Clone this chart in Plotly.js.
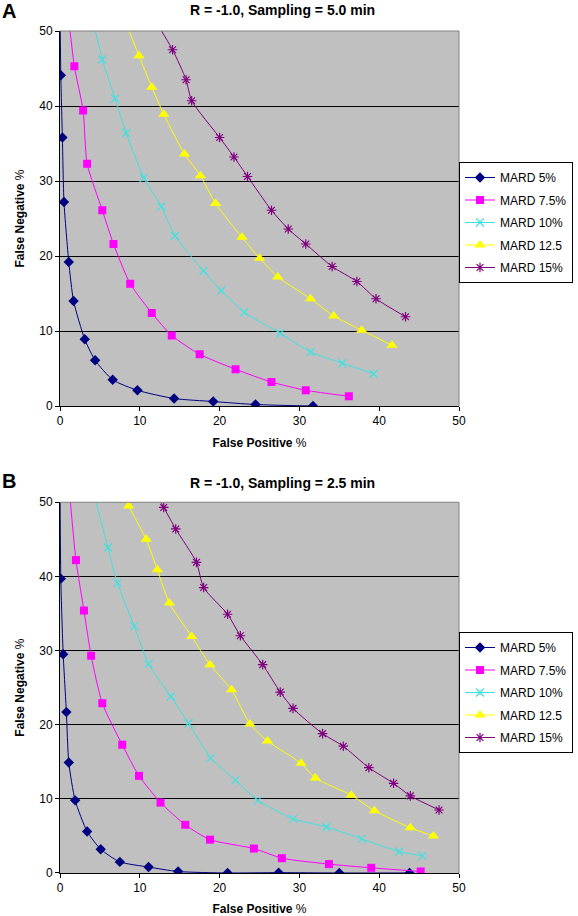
<!DOCTYPE html>
<html>
<head>
<meta charset="utf-8">
<script src="https://cdn.plot.ly/plotly-3.0.1.min.js"></script>
<style>html,body{margin:0;padding:0;background:#fff;}#chart{width:578px;height:916px;}</style>
</head>
<body>
<div id="chart"></div>
<script>
// Series names (legend labels)
const seriesNames = ['MARD 5%', 'MARD 7.5%', 'MARD 10%', 'MARD 12.5', 'MARD 15%'];
const titleA = 'R = -1.0, Sampling = 5.0 min';
const titleB = 'R = -1.0, Sampling = 2.5 min';
const xTitle = 'False Positive';
const yTitle = 'False Negative';

// Panel A (Sampling = 5.0 min): false positive % (x) and false negative % (y)
// first point of each series is off-scale (above 50) and clipped, as in the original
const fpA_5   = [0.0, 0.1, 0.3, 0.5, 1.1, 1.7, 3.1, 4.4, 6.6, 9.7, 14.3, 19.2, 24.5, 31.7];
const fnA_5   = [53, 44.1, 35.8, 27.2, 19.2, 14.0, 8.9, 6.1, 3.5, 2.1, 1.0, 0.6, 0.2, 0.0];
const fpA_75  = [0.95, 1.8, 2.9, 3.4, 5.3, 6.7, 8.8, 11.5, 14.0, 17.5, 22.0, 26.5, 30.8, 36.2];
const fnA_75  = [53, 45.3, 39.4, 32.3, 26.1, 21.6, 16.3, 12.4, 9.4, 6.9, 4.9, 3.2, 2.1, 1.3];
const fpA_10  = [3.8, 5.3, 6.9, 8.3, 10.5, 12.7, 14.4, 18.0, 20.2, 23.1, 27.6, 31.4, 35.4, 39.3];
const fnA_10  = [53, 46.2, 41.0, 36.4, 30.4, 26.6, 22.7, 18.0, 15.4, 12.5, 9.7, 7.2, 5.7, 4.3];
const fpA_125 = [7.55, 9.9, 11.5, 13.0, 15.6, 17.6, 19.5, 22.8, 25.0, 27.3, 31.4, 34.3, 37.8, 41.6];
const fnA_125 = [53, 46.7, 42.5, 38.9, 33.6, 30.7, 27.0, 22.5, 19.7, 17.2, 14.3, 12.0, 10.1, 8.1];
const fpA_15  = [11.0, 14.1, 15.8, 16.5, 20.0, 21.8, 23.5, 26.5, 28.6, 30.8, 34.1, 37.2, 39.6, 43.3];
const fnA_15  = [53, 47.5, 43.5, 40.7, 35.8, 33.2, 30.6, 26.1, 23.6, 21.6, 18.6, 16.6, 14.3, 11.9];

// Panel B (Sampling = 2.5 min)
const fpB_5   = [0.0, 0.1, 0.4, 0.8, 1.1, 1.9, 3.4, 5.1, 7.5, 11.1, 14.8, 21.0, 27.4, 35.0, 43.8];
const fnB_5   = [53, 39.7, 29.5, 21.7, 14.9, 9.8, 5.6, 3.2, 1.5, 0.8, 0.2, 0.0, 0.05, 0.0, 0.0];
const fpB_75  = [1.06, 2.0, 3.0, 3.9, 5.3, 7.8, 9.9, 12.6, 15.7, 18.8, 24.3, 27.8, 33.7, 39.0, 45.2];
const fnB_75  = [53, 42.2, 35.4, 29.3, 22.9, 17.3, 13.1, 9.5, 6.5, 4.5, 3.3, 2.0, 1.2, 0.7, 0.2];
const fpB_10  = [3.8, 6.0, 7.2, 9.3, 11.1, 13.9, 16.1, 18.9, 22.0, 24.8, 29.2, 33.4, 37.8, 42.5, 45.4];
const fnB_10  = [53, 43.9, 39.1, 33.3, 28.2, 23.8, 20.2, 15.5, 12.5, 9.8, 7.3, 6.2, 4.6, 2.9, 2.3];
const fpB_125 = [6.9, 8.6, 10.8, 12.2, 13.7, 16.5, 18.8, 21.5, 23.8, 26.0, 30.2, 32.0, 36.5, 39.4, 43.9, 46.8];
const fnB_125 = [53, 49.5, 45.0, 40.9, 36.4, 31.9, 28.1, 24.7, 20.1, 17.8, 14.8, 12.8, 10.5, 8.4, 6.1, 5.0];
const fpB_15  = [11.1, 13.0, 14.5, 17.1, 18.0, 21.0, 22.6, 25.4, 27.6, 29.2, 32.9, 35.5, 38.7, 41.8, 43.9, 47.5];
const fnB_15  = [53, 49.3, 46.4, 41.9, 38.5, 34.9, 32.0, 28.1, 24.4, 22.2, 18.8, 17.1, 14.2, 12.1, 10.4, 8.5];

const FONT = 'Arial, "Liberation Sans", sans-serif';
const styles = [
  {color: '#000080', symbol: 'diamond', size: 8},
  {color: '#FF00FF', symbol: 'square', size: 8},
  {color: '#40E0E0', symbol: 'x-thin-open', size: 8},
  {color: '#FFFF00', symbol: 'triangle-up', size: 10},
  {color: '#800080', symbol: 'asterisk-open', size: 8}
];

const panelA = [[fpA_5, fnA_5], [fpA_75, fnA_75], [fpA_10, fnA_10], [fpA_125, fnA_125], [fpA_15, fnA_15]];
const panelB = [[fpB_5, fnB_5], [fpB_75, fnB_75], [fpB_10, fnB_10], [fpB_125, fnB_125], [fpB_15, fnB_15]];

function makeTrace(d, i, xa, ya, leg, grp) {
  const s = styles[i];
  const thin = s.symbol.indexOf('open') >= 0;
  return {
    type: 'scatter', mode: 'lines+markers',
    x: d[0], y: d[1], xaxis: xa, yaxis: ya,
    name: seriesNames[i], legend: leg, legendgroup: grp + i,
    line: {color: s.color, width: 1, shape: 'spline', smoothing: 0.6},
    marker: {symbol: s.symbol, size: s.size, color: s.color,
             line: {color: s.color, width: thin ? 1.2 : 0}},
    cliponaxis: true,
    hoverinfo: 'x+y+name'
  };
}

const traces = [];
panelA.forEach((d, i) => traces.push(makeTrace(d, i, 'x', 'y', 'legend', 'a')));
panelB.forEach((d, i) => traces.push(makeTrace(d, i, 'x2', 'y2', 'legend2', 'b')));

function xAxis(anchor) {
  return {
    anchor: anchor, domain: [0, 1], range: [0, 50], dtick: 10, tick0: 0,
    ticks: 'outside', ticklen: 4, tickcolor: '#000', tickwidth: 1,
    showline: true, linecolor: '#000', linewidth: 1,
    showgrid: false, zeroline: false, layer: 'above traces',
    tickfont: {family: FONT, size: 12, color: '#000'},
    title: {text: '<b>' + xTitle + '</b> %', font: {family: FONT, size: 12, color: '#000'}, standoff: 11},
    automargin: false
  };
}
function yAxis(anchor, dom) {
  return {
    anchor: anchor, domain: dom, range: [0, 50], dtick: 10, tick0: 0,
    ticks: 'outside', ticklen: 4, tickcolor: '#000', tickwidth: 1,
    showline: true, linecolor: '#000', linewidth: 1,
    showgrid: true, gridcolor: '#000', gridwidth: 1, zeroline: false, layer: 'above traces',
    tickfont: {family: FONT, size: 12, color: '#000'},
    title: {text: '<b>' + yTitle + '</b> %', font: {family: FONT, size: 12, color: '#000'}, standoff: 12},
    automargin: false
  };
}
function legendBox(yTop) {
  return {
    xref: 'container', yref: 'container',
    x: 459 / 578, xanchor: 'left', y: yTop, yanchor: 'top',
    bgcolor: '#fff', bordercolor: '#000', borderwidth: 1,
    font: {family: FONT, size: 12, color: '#000'},
    traceorder: 'grouped', tracegroupgap: 3.5
  };
}

const borderLine = {color: '#808080', width: 1};
const layout = {
  width: 578, height: 916,
  margin: {l: 60, r: 118, t: 31, b: 43},
  paper_bgcolor: '#fff', plot_bgcolor: '#C0C0C0',
  font: {family: FONT, color: '#000'},
  showlegend: true,
  xaxis: xAxis('y'),
  yaxis: yAxis('x', [0.5546, 1]),
  xaxis2: xAxis('y2'),
  yaxis2: yAxis('x2', [0, 0.4403]),
  legend: legendBox(1 - 162 / 916),
  legend2: legendBox(1 - 632 / 916),
  shapes: [
    {type: 'line', xref: 'x domain', yref: 'y domain', x0: 0, x1: 1, y0: 1, y1: 1, line: borderLine, layer: 'above'},
    {type: 'line', xref: 'x domain', yref: 'y domain', x0: 1, x1: 1, y0: 0, y1: 1, line: borderLine, layer: 'above'},
    {type: 'line', xref: 'x2 domain', yref: 'y2 domain', x0: 0, x1: 1, y0: 1, y1: 1, line: borderLine, layer: 'above'},
    {type: 'line', xref: 'x2 domain', yref: 'y2 domain', x0: 1, x1: 1, y0: 0, y1: 1, line: borderLine, layer: 'above'}
  ],
  annotations: [
    {text: '<b>A</b>', xref: 'paper', yref: 'paper', x: -0.15, y: 1.0238, xanchor: 'left', yanchor: 'middle',
     showarrow: false, font: {family: FONT, size: 20, color: '#000'}},
    {text: '<b>' + titleA + '</b>', xref: 'paper', yref: 'paper', x: 0.5575, y: 1.0245, xanchor: 'center', yanchor: 'middle',
     showarrow: false, font: {family: FONT, size: 14, color: '#000'}},
    {text: '<b>B</b>', xref: 'paper', yref: 'paper', x: -0.15, y: 0.4659, xanchor: 'left', yanchor: 'middle',
     showarrow: false, font: {family: FONT, size: 20, color: '#000'}},
    {text: '<b>' + titleB + '</b>', xref: 'paper', yref: 'paper', x: 0.5575, y: 0.4632, xanchor: 'center', yanchor: 'middle',
     showarrow: false, font: {family: FONT, size: 14, color: '#000'}}
  ]
};

Plotly.newPlot('chart', traces, layout, {staticPlot: true, displayModeBar: false});
</script>
</body>
</html>
